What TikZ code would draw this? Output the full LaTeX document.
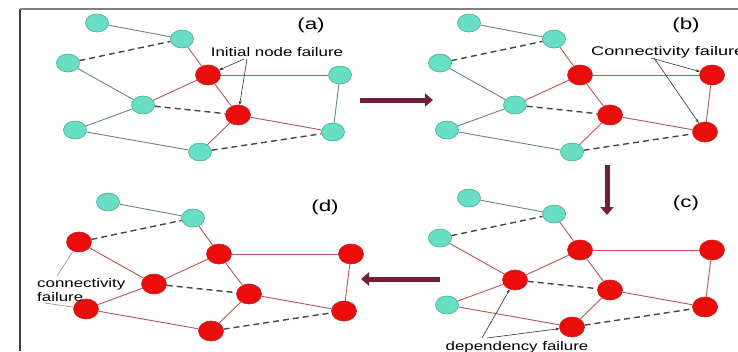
\documentclass[tikz,border=0pt]{standalone}
\usepackage{fontspec}
\setmainfont{Liberation Sans}
\usetikzlibrary{shapes.geometric,arrows.meta}

\definecolor{okfill}{RGB}{104,222,196}
\definecolor{okline}{RGB}{70,170,150}
\definecolor{badfill}{RGB}{235,12,12}
\definecolor{badline}{RGB}{200,30,30}
\definecolor{okedgec}{RGB}{105,135,130}
\definecolor{badedgec}{RGB}{185,85,85}
\definecolor{dashc}{RGB}{70,70,70}
\definecolor{arrowc}{RGB}{112,32,50}

% text in this figure is set slightly widened
\newcommand\widetext[2][1.35]{\scalebox{#1}[1]{#2}}
\newcommand\widetag[1]{\scalebox{1.4}[1]{#1}}

\tikzset{
  ok/.style={ellipse, fill=okfill, draw=okline, line width=0.6pt,
    minimum width=23pt, minimum height=18pt, inner sep=0pt},
  bad/.style={ellipse, fill=badfill, draw=badline, line width=0.6pt,
    minimum width=25pt, minimum height=20pt, inner sep=0pt},
  okedge/.style={draw=okedgec, line width=0.9pt},
  badedge/.style={draw=badedgec, line width=0.9pt},
  depedge/.style={draw=dashc, line width=1.4pt, dash pattern=on 6pt off 4pt},
  stage/.style={draw=arrowc, line width=5pt, -{Triangle[length=8pt,width=13pt]}},
  pointer/.style={draw=black!80, line width=0.6pt, -{Stealth[length=4pt,width=3pt]}},
  guide/.style={draw=black!45, line width=0.6pt},
  tag/.style={font=\fontsize{16}{16}\selectfont, inner sep=0pt},
  note/.style={font=\fontsize{12.5}{14}\selectfont, inner sep=0pt},
}

\begin{document}
\begin{tikzpicture}[x=1pt, y=-1pt]
\useasboundingbox (0,0) rectangle (738,351);
\fill[white] (0,0) rectangle (738,351);

% frame
\draw[black!75, line width=1.5pt] (20,9) -- (20,351);
\draw[black!50, line width=1.5pt] (20,9) -- (738,9);

% (a) initial node failure
\begin{scope}[name prefix=a-]
  \node[ok]  (n1)  at (97,23)  {};
  \node[ok]  (n2)  at (182,39) {};
  \node[ok]  (n3)  at (68,63)  {};
  \node[bad] (n4)  at (208,75) {};
  \node[ok]  (n5)  at (340,75) {};
  \node[ok]  (n6)  at (143,105) {};
  \node[bad] (n7)  at (238,115) {};
  \node[ok]  (n8)  at (75,130) {};
  \node[ok]  (n9)  at (333,132) {};
  \node[ok]  (n10) at (200,152) {};
  \draw[okedge]  (n1) -- (n2);
  \draw[badedge] (n2) -- (n4);
  \draw[okedge]  (n3) -- (n6);
  \draw[badedge] (n4) -- (n5);
  \draw[badedge] (n6) -- (n4);
  \draw[badedge] (n4) -- (n7);
  \draw[okedge]  (n5) -- (n9);
  \draw[badedge] (n7) -- (n9);
  \draw[okedge]  (n8) -- (n6);
  \draw[okedge]  (n8) -- (n10);
  \draw[badedge] (n10) -- (n7);
  \draw[depedge] (n3) -- (n2);
  \draw[depedge] (n6) -- (n7);
  \draw[depedge] (n10) -- (n9);
  \node[tag] (t) at (311,25) {\widetag{(a)}};
  \node[note] (lbl) at (277,52) {\widetext{Initial node failure}};
  \coordinate (p) at (244,59);
  \draw[pointer] (p) -- (n4);
  \draw[pointer] ([xshift=3pt]p) -- (n7);
\end{scope}

% (b) connectivity failure
\begin{scope}[shift={(372,0)}, name prefix=b-]
  \node[ok]  (n1)  at (97,23)  {};
  \node[ok]  (n2)  at (182,39) {};
  \node[ok]  (n3)  at (68,63)  {};
  \node[bad] (n4)  at (208,75) {};
  \node[bad] (n5)  at (340,75) {};
  \node[ok]  (n6)  at (143,105) {};
  \node[bad] (n7)  at (238,115) {};
  \node[ok]  (n8)  at (75,130) {};
  \node[bad] (n9)  at (333,132) {};
  \node[ok]  (n10) at (200,152) {};
  \draw[okedge]  (n1) -- (n2);
  \draw[badedge] (n2) -- (n4);
  \draw[okedge]  (n3) -- (n6);
  \draw[badedge] (n4) -- (n5);
  \draw[badedge] (n6) -- (n4);
  \draw[badedge] (n4) -- (n7);
  \draw[badedge] (n5) -- (n9);
  \draw[badedge] (n7) -- (n9);
  \draw[okedge]  (n8) -- (n6);
  \draw[okedge]  (n8) -- (n10);
  \draw[badedge] (n10) -- (n7);
  \draw[depedge] (n3) -- (n2);
  \draw[depedge] (n6) -- (n7);
  \draw[depedge] (n10) -- (n9);
  \node[tag] (t) at (314,25) {\widetag{(b)}};
  \node[note, anchor=west] (lbl) at (219,52) {\widetext[1.45]{Connectivity failure}};
  \coordinate (p) at (279,58);
  \draw[pointer] (p) -- (n5);
  \draw[pointer] ([xshift=3pt]p) -- (n9);
\end{scope}

% (c) dependency failure
\begin{scope}[shift={(372,175)}, name prefix=c-]
  \node[ok]  (n1)  at (97,23)  {};
  \node[ok]  (n2)  at (182,39) {};
  \node[ok]  (n3)  at (68,63)  {};
  \node[bad] (n4)  at (208,75) {};
  \node[bad] (n5)  at (340,75) {};
  \node[bad] (n6)  at (143,105) {};
  \node[bad] (n7)  at (238,115) {};
  \node[ok]  (n8)  at (75,130) {};
  \node[bad] (n9)  at (333,132) {};
  \node[bad] (n10) at (200,152) {};
  \draw[okedge]  (n1) -- (n2);
  \draw[badedge] (n2) -- (n4);
  \draw[badedge] (n3) -- (n6);
  \draw[badedge] (n4) -- (n5);
  \draw[badedge] (n6) -- (n4);
  \draw[badedge] (n4) -- (n7);
  \draw[badedge] (n5) -- (n9);
  \draw[badedge] (n7) -- (n9);
  \draw[badedge] (n8) -- (n6);
  \draw[badedge] (n8) -- (n10);
  \draw[badedge] (n10) -- (n7);
  \draw[depedge] (n3) -- (n2);
  \draw[depedge] (n6) -- (n7);
  \draw[depedge] (n10) -- (n9);
  \node[tag] (t) at (314,28) {\widetag{(c)}};
  \node[note, anchor=north] (lbl) at (145,166) {\widetext{dependency failure}};
  \coordinate (p) at (110,163);
  \draw[pointer] (p) -- (n6);
  \draw[pointer] ([xshift=5pt]p) -- (n10);
\end{scope}

% (d) the cascade reaches the rest of the network
\begin{scope}[shift={(11,179)}, name prefix=d-]
  \node[ok]  (n1)  at (97,23)  {};
  \node[ok]  (n2)  at (182,39) {};
  \node[bad] (n3)  at (68,63)  {};
  \node[bad] (n4)  at (208,75) {};
  \node[bad] (n5)  at (340,75) {};
  \node[bad] (n6)  at (143,105) {};
  \node[bad] (n7)  at (238,115) {};
  \node[bad] (n8)  at (75,130) {};
  \node[bad] (n9)  at (333,132) {};
  \node[bad] (n10) at (200,152) {};
  \draw[okedge]  (n1) -- (n2);
  \draw[badedge] (n2) -- (n4);
  \draw[badedge] (n3) -- (n6);
  \draw[badedge] (n4) -- (n5);
  \draw[badedge] (n6) -- (n4);
  \draw[badedge] (n4) -- (n7);
  \draw[badedge] (n5) -- (n9);
  \draw[badedge] (n7) -- (n9);
  \draw[badedge] (n8) -- (n6);
  \draw[badedge] (n8) -- (n10);
  \draw[badedge] (n10) -- (n7);
  \draw[depedge] (n3) -- (n2);
  \draw[depedge] (n6) -- (n7);
  \draw[depedge] (n10) -- (n9);
  \node[tag] (t) at (314,28) {\widetag{(d)}};
  \node[note, anchor=north west] (lbl1) at (26,99) {\widetext{connectivity}};
  \node[note, anchor=north west] (lbl2) at (26,113) {\widetext{failure}};
  \coordinate (p) at (46,97);
  \coordinate (q) at (34,124);
  \draw[guide] (p) -- (n3);
  \draw[guide] (q) -- (n8);
\end{scope}

% stage arrows
\coordinate (ab1) at (360,100);
\coordinate (ab2) at (433,100);
\coordinate (bc1) at (607,165);
\coordinate (bc2) at (607,215);
\coordinate (cd1) at (440,279);
\coordinate (cd2) at (361,279);
\draw[stage] (ab1) -- (ab2);
\draw[stage] (bc1) -- (bc2);
\draw[stage] (cd1) -- (cd2);
\end{tikzpicture}
\end{document}
